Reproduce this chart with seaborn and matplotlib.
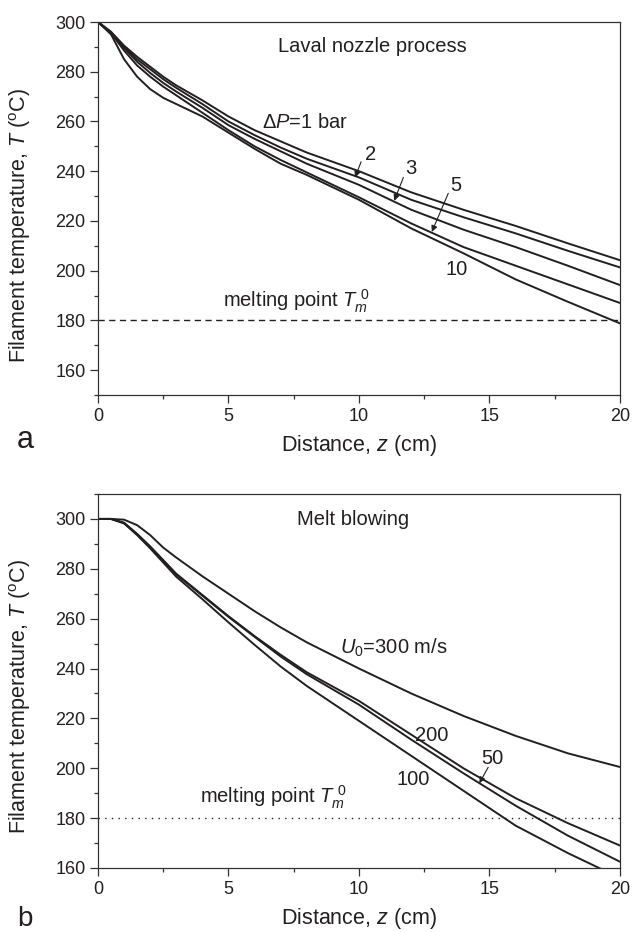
import numpy as np
import pandas as pd
import matplotlib
matplotlib.use("Agg")
import matplotlib.pyplot as plt
from matplotlib.ticker import MultipleLocator
import seaborn as sns

# ---------------- data ----------------
z_a = [0, 0.5, 1, 1.5, 2, 2.5, 3, 4, 5, 6, 7, 8, 10, 12, 14, 16, 18, 20]
T_dp1 = [300, 296, 290.5, 286, 282, 278, 274.5, 268.5, 262, 256.5, 252, 247.5, 240, 231.5, 224.5, 218, 211, 204.2]
T_dp2 = [300, 296, 290, 285, 281, 277, 273.5, 267, 260, 254.5, 249.5, 245, 237.5, 228.5, 221.5, 215, 208, 201.3]
T_dp3 = [300, 295.7, 289.5, 284, 279.5, 275.5, 272, 265.5, 258.5, 253, 248, 243, 234.5, 224.5, 216.5, 209.5, 202, 194.2]
T_dp5 = [300, 295.5, 288.5, 282.5, 278, 274, 270.5, 263.5, 256.5, 250, 244.5, 239.5, 229.5, 219, 209.5, 202, 194.5, 187]
T_dp10 = [300, 295, 285, 278, 273, 269.5, 267, 262, 255.5, 249, 243, 238.5, 228.5, 217, 207, 196.5, 187.5, 178.8]
series_a = ["1 bar", "2", "3", "5", "10"]

z_b = [0, 0.5, 1, 1.5, 2, 2.5, 3, 4, 5, 6, 7, 8, 10, 12, 14, 16, 18, 20]
T_u300 = [300, 300, 299.7, 297.5, 293.5, 288.5, 284.5, 277, 270, 263, 256.5, 250.5, 240, 230, 221, 213, 206, 200.5]
T_u200 = [300, 300, 298.5, 294, 289, 283.5, 278, 269.5, 261, 253, 245.5, 238.5, 227, 213.5, 200, 188, 178, 169]
T_u50 = [300, 300, 298.3, 293.8, 288.7, 283.2, 277.7, 269.2, 260.7, 252.7, 244.8, 237.7, 225.5, 211.5, 198, 185, 173, 162.5]
T_u100 = [300, 300, 298.2, 293.5, 288.2, 282.5, 276.8, 267.8, 258.5, 249.5, 240.8, 233, 219, 205, 191, 177, 166, 156]
series_b = ["300", "200", "50", "100"]

melting_point = 180

# ---------------- style ----------------
sns.set_theme(style="ticks")
plt.rcParams["font.family"] = ["Liberation Sans", "DejaVu Sans"]
plt.rcParams["mathtext.fontset"] = "custom"
plt.rcParams["mathtext.rm"] = "Liberation Sans"
plt.rcParams["mathtext.it"] = "Liberation Sans:italic"
plt.rcParams["mathtext.bf"] = "Liberation Sans:bold"
plt.rcParams["axes.unicode_minus"] = False

INK = "#231f20"

fig = plt.figure(figsize=(6.32, 9.32), dpi=100)
ax_a = fig.add_axes([98 / 632, 1 - 395 / 932, 522 / 632, 373 / 932])
ax_b = fig.add_axes([98 / 632, 1 - 868 / 932, 522 / 632, 374 / 932])

df_a = pd.concat([
    pd.DataFrame({"z": z_a, "T": t, "series": s})
    for s, t in zip(series_a, [T_dp1, T_dp2, T_dp3, T_dp5, T_dp10])
])
df_b = pd.concat([
    pd.DataFrame({"z": z_b, "T": t, "series": s})
    for s, t in zip(series_b, [T_u300, T_u200, T_u50, T_u100])
])

sns.lineplot(data=df_a, x="z", y="T", hue="series", palette=[INK] * 5,
             estimator=None, sort=False, legend=False, lw=1.4, ax=ax_a)
sns.lineplot(data=df_b, x="z", y="T", hue="series", palette=[INK] * 4,
             estimator=None, sort=False, legend=False, lw=1.4, ax=ax_b)

ax_a.axhline(melting_point, color=INK, lw=1.0, dashes=(4.5, 3.2))
ax_b.axhline(melting_point, color=INK, lw=1.0, dashes=(1, 3.8))

for ax, (ylo, yhi) in zip([ax_a, ax_b], [(150, 300), (160, 310)]):
    ax.set_xlim(0, 20)
    ax.xaxis.set_major_locator(MultipleLocator(5))
    ax.xaxis.set_minor_locator(MultipleLocator(2.5))
    ax.yaxis.set_minor_locator(MultipleLocator(10))
    ax.set_yticks(np.arange(160, 301, 20))
    ax.set_ylim(ylo, yhi)
    ax.tick_params(which="major", direction="out", length=6, width=0.9,
                   color="#333333", labelsize=13, labelcolor=INK, pad=3)
    ax.tick_params(which="minor", direction="out", length=3.2, width=0.9,
                   color="#333333")
    ax.tick_params(top=False, right=False, which="both")
    for sp in ax.spines.values():
        sp.set_visible(True)
        sp.set_linewidth(0.9)
        sp.set_color("#333333")
    ax.set_xlabel(r"Distance, $z$ (cm)", fontsize=15.5, color=INK, labelpad=6)
    ax.set_ylabel(r"Filament temperature, $T$ ($^{\mathrm{o}}$C)", fontsize=15.5, color=INK)
    ax.set_facecolor("white")

ax_a.yaxis.set_label_coords(-0.125, 0.454)
ax_b.yaxis.set_label_coords(-0.125, 0.458)

fs = 14.5
# panel a annotations
ax_a.text(6.9, 288.0, "Laval nozzle process", fontsize=fs, color=INK, ha="left", va="baseline")
ax_a.text(6.27, 257.2, r"$\Delta\mathit{P}$=1 bar", fontsize=fs, color=INK, ha="left", va="baseline")
ax_a.text(4.79, 185.4, r"melting point $T_{m}^{\ 0}$", fontsize=fs, color=INK, ha="left", va="baseline")
ax_a.text(13.3, 198.2, "10", fontsize=fs, color=INK, ha="left", va="baseline")
arrow = dict(arrowstyle="-|>", color=INK, lw=0.8, mutation_scale=9, shrinkA=0, shrinkB=0)
for lab, txt_xy, tail, tip in [("2", (10.23, 244.7), (10.08, 243.8), (9.85, 237.5)),
                               ("3", (11.76, 238.7), (11.70, 237.5), (11.35, 228.1)),
                               ("5", (13.49, 232.0), (13.42, 231.1), (12.79, 215.6))]:
    ax_a.text(*txt_xy, lab, fontsize=fs, color=INK, ha="left", va="baseline")
    ax_a.annotate("", xy=tip, xytext=tail, arrowprops=arrow)

# panel b annotations
ax_b.text(7.62, 297.6, "Melt blowing", fontsize=fs, color=INK, ha="left", va="baseline")
ax_b.text(9.27, 246.1, r"$U_{0}$=300 m/s", fontsize=fs, color=INK, ha="left", va="baseline")
ax_b.text(12.15, 211.1, "200", fontsize=fs, color=INK, ha="left", va="baseline")
ax_b.text(11.44, 193.3, "100", fontsize=fs, color=INK, ha="left", va="baseline")
ax_b.text(14.70, 201.6, "50", fontsize=fs, color=INK, ha="left", va="baseline")
ax_b.annotate("", xy=(14.61, 194.0), xytext=(14.95, 200.4), arrowprops=arrow)
ax_b.text(3.91, 186.0, r"melting point $T_{m}^{\ 0}$", fontsize=fs, color=INK, ha="left", va="baseline")

# panel letters
fig.text(17 / 632, 1 - 448 / 932, "a", fontsize=22, color=INK, ha="left", va="baseline")
fig.text(17 / 632, 1 - 926 / 932, "b", fontsize=20, color=INK, ha="left", va="baseline")

fig.savefig("out.png", dpi=100, facecolor="white")
